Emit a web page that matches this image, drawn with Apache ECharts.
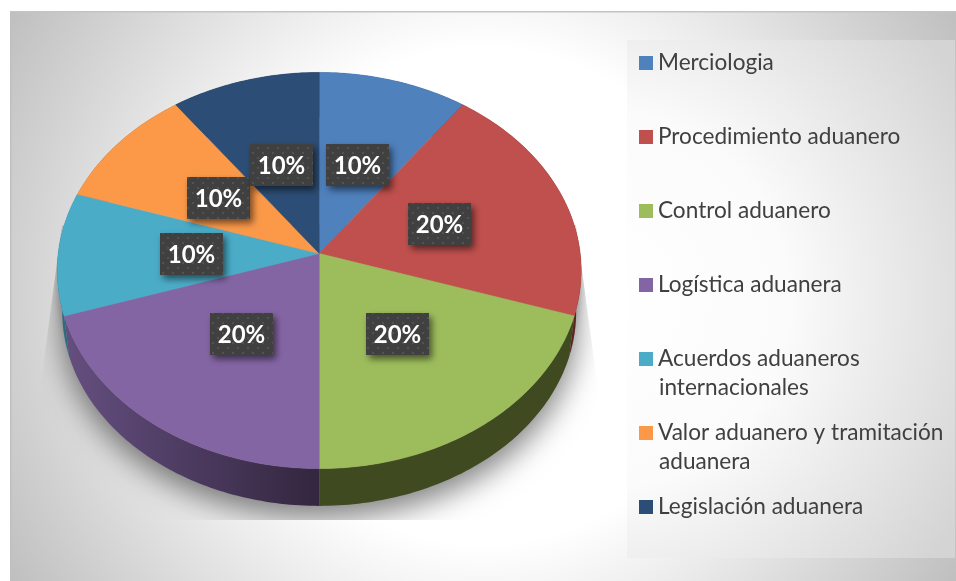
<!DOCTYPE html>
<html><head><meta charset="utf-8">
<style>html,body{margin:0;padding:0;background:#fff}#c{width:956px;height:581px}</style>
<script src="https://cdn.jsdelivr.net/npm/echarts@6/dist/echarts.min.js"></script>
</head><body><div id="c"></div>
<script>
const categories = ['Merciologia','Procedimiento aduanero','Control aduanero','Logística aduanera','Acuerdos aduaneros\ninternacionales','Valor aduanero y tramitación\naduanera','Legislación aduanera'];
const shares = [10,20,20,20,10,10,10];
const topColors = ['#4f81bd','#c0504d','#9dbd5c','#8465a4','#4bacc8','#fb9949','#2c4d75'];
const wallColors = ['#2c4a6e','#5e2422','#404a20','#5f4878','#2a6c80','#8a5020','#1a2e48'];

const FONT = 'Lato, "Open Sans", sans-serif';
const total = shares.reduce((a,b)=>a+b,0);
const starts = []; shares.reduce((a,b,i)=>(starts[i]=a,a+b),0);
const K = 0.0858;
// projection of the tilted disc
function rim(deg, r, g){
  const t = deg*Math.PI/180, X = r*Math.sin(t), Y = r*Math.cos(t), w = 1+K*Y;
  return [g.cx + g.a*X/w, g.cy - g.b*Y/w];
}
const TOP = {cx:319.2, cy:253.5, a:261, b:196.6};
const BOT = {cx:319.2, cy:295, a:256, b:192.8};
function arc(g, d0, d1){ const p=[]; const n=Math.max(2,Math.ceil(d1-d0)); for(let i=0;i<=n;i++) p.push(rim(d0+(d1-d0)*i/n,1,g)); return p; }
function range(i){ return [starts[i]/total*360, (starts[i]+shares[i])/total*360]; }

const dots = document.createElement('canvas'); dots.width = 10; dots.height = 10;
(function(){ const c = dots.getContext('2d'); c.fillStyle='#404040'; c.fillRect(0,0,10,10); c.fillStyle='#525252'; c.fillRect(2,2,2,2); c.fillRect(7,7,2,2); })();

const series = [];
series.push({type:'custom',coordinateSystem:'none',silent:true,z:2,data:[0],renderItem(){
  const shade = {fill:'#999',shadowBlur:30,shadowColor:'rgba(0,0,0,0.5)',shadowOffsetY:12};
  return {type:'group',
    clipPath:{type:'polygon',shape:{points:[[62,225],[40,390],[40,520],[598,520],[598,390],[576,225]]}},
    children:[
      {type:'polygon',shape:{points:arc(TOP,0,360)},style:{fill:'#999',shadowBlur:12,shadowColor:'rgba(0,0,0,0.3)',shadowOffsetY:2}},
      {type:'polygon',shape:{points:arc(BOT,0,360)},style:shade}
    ]};
}});
series.push({type:'custom',coordinateSystem:'none',silent:true,z:3,data:shares.map((v,i)=>i),renderItem(p,api){
  const i = api.value(0), [d0,d1] = range(i);
  const pts = arc(TOP,d0,d1).concat(arc(BOT,d0,d1).reverse());
  const fill = i===3 ? new echarts.graphic.LinearGradient(63,0,319,0,[{offset:0,color:'#654f80'},{offset:1,color:'#33263f'}],true) : wallColors[i];
  return {type:'polygon',shape:{points:pts},style:{fill}};
}});
categories.forEach((name,i)=>{
  series.push({type:'custom',name,coordinateSystem:'none',z:4,itemStyle:{color:topColors[i]},data:[shares[i]],renderItem(){
    const [d0,d1] = range(i);
    return {type:'polygon',shape:{points:[rim(0,0,TOP)].concat(arc(TOP,d0,d1))},style:{fill:topColors[i],stroke:topColors[i],lineWidth:0.5}};
  }});
});
series.push({type:'custom',coordinateSystem:'none',silent:true,z:6,data:shares.map((v,i)=>i),renderItem(p,api){
  const i = api.value(0), [d0,d1] = range(i);
  const c = rim((d0+d1)/2,0.49,TOP), W=63, H=42;
  const x=Math.round(c[0]-W/2), y=Math.round(c[1]-H/2);
  return {type:'group',children:[
    {type:'rect',shape:{x,y,width:W,height:H},style:{fill:{image:dots,repeat:'repeat'},shadowBlur:7,shadowOffsetX:3,shadowOffsetY:4,shadowColor:'rgba(0,0,0,0.55)'}},
    {type:'text',style:{x:x+W/2,y:y+H/2+1,text:Math.round(shares[i]/total*100)+'%',fill:'#fff',font:'bold 24px '+FONT,align:'center',verticalAlign:'middle'}}
  ]};
}});

const graphics = [
  {type:'rect',z:-3,silent:true,shape:{x:10,y:11,width:946,height:570},style:{fill:new echarts.graphic.RadialGradient(483,296,552,[{offset:0,color:'#fff'},{offset:0.45,color:'#fff'},{offset:1,color:'#bfbfbf'}],true)}},
  {type:'rect',z:-2,silent:true,shape:{x:10,y:11,width:946,height:1.5},style:{fill:'#c4c4c4'}},
  {type:'rect',z:-2,silent:true,shape:{x:10,y:11,width:1.5,height:570},style:{fill:'#c0c0c0'}},
  {type:'rect',z:-1,silent:true,shape:{x:627,y:40,width:328,height:518},style:{fill:new echarts.graphic.RadialGradient(600,300,420,[{offset:0,color:'#ffffff'},{offset:0.45,color:'#fbfbfb'},{offset:1,color:'#d4d4d4'}],true)}}
];
categories.forEach((n,i)=>{ const s=n.split('\n'); if(s[1]) graphics.push({type:'text',z:10,silent:true,x:659,y:63+74*i+29,style:{text:s[1],fill:'#404040',font:'22.6px '+FONT,verticalAlign:'middle'}}); });

const chart = echarts.init(document.getElementById('c'),null,{renderer:'canvas'});
chart.setOption({
  animation:false,
  graphic:graphics,
  tooltip:{show:false},
  legend:{orient:'vertical',left:634,top:46,itemWidth:14,itemHeight:14,itemGap:50,selectedMode:false,icon:'rect',data:categories,
    formatter:n=>n.split('\n')[0],textStyle:{color:'#404040',fontFamily:FONT,fontSize:22.6,lineHeight:24}},
  series
});
</script></body></html>
